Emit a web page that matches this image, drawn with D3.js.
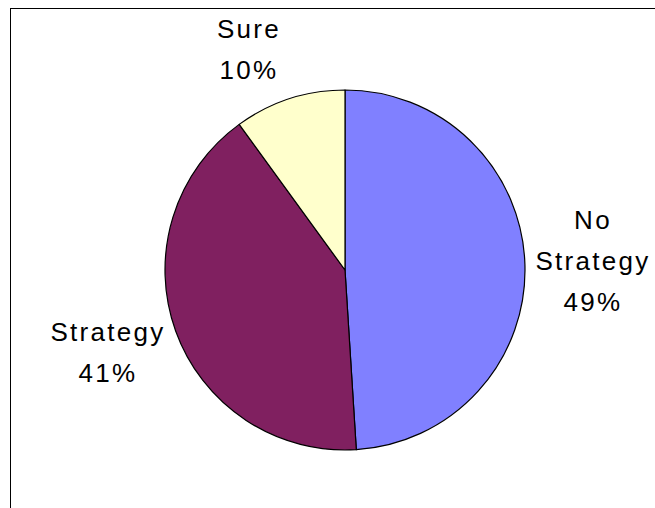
<!DOCTYPE html>
<html>
<head>
<meta charset="utf-8">
<script src="https://cdn.jsdelivr.net/npm/d3@7"></script>
<style>
  html, body { margin: 0; padding: 0; background: #fff; }
  svg { display: block; }
  .lbl { font-family: "Liberation Sans", Arial, sans-serif; font-size: 26px; fill: #000; letter-spacing: 2.3px; }
</style>
</head>
<body>
<svg id="chart" width="655" height="508"></svg>
<script>
// Survey answers, drawn clockwise from 12 o'clock
const categories = ["No Strategy", "Strategy", "Sure"];
const shares = [49, 41, 10];
const colors = ["#8080FF", "#802060", "#FFFFCC"];
// Label lines per slice; anchor = centre x and first baseline y of each block
const labelLines = [["No", "Strategy", "49%"], ["Strategy", "41%"], ["Sure", "10%"]];
const labelAnchors = [[593, 229], [108, 341], [249, 38]];

const width = 655, height = 508;
const cx = 345, cy = 270, radius = 180;

const svg = d3.select("#chart");

// Chart-area frame (open at the right and bottom edges of the window)
svg.append("rect")
  .attr("x", 10.5).attr("y", 8.5)
  .attr("width", 700).attr("height", 600)
  .attr("fill", "#fff")
  .attr("stroke", "#000")
  .attr("stroke-width", 1);

const data = categories.map((c, i) => ({ name: c, value: shares[i], color: colors[i], lines: labelLines[i], anchor: labelAnchors[i] }));

const pie = d3.pie().value(d => d.value).sort(null);
const arc = d3.arc().innerRadius(0).outerRadius(radius);

const g = svg.append("g").attr("transform", `translate(${cx},${cy})`);
g.selectAll("path")
  .data(pie(data))
  .join("path")
  .attr("d", arc)
  .attr("fill", d => d.data.color)
  .attr("stroke", "#000")
  .attr("stroke-width", 1.2)
  .attr("stroke-linejoin", "round");

// Category and percentage labels
const lineGap = 41;
data.forEach(d => {
  const t = svg.append("text")
    .attr("class", "lbl")
    .attr("text-anchor", "middle");
  d.lines.forEach((line, j) => {
    t.append("tspan")
      .attr("x", d.anchor[0])
      .attr("y", d.anchor[1] + j * lineGap)
      .text(line);
  });
});
</script>
</body>
</html>
